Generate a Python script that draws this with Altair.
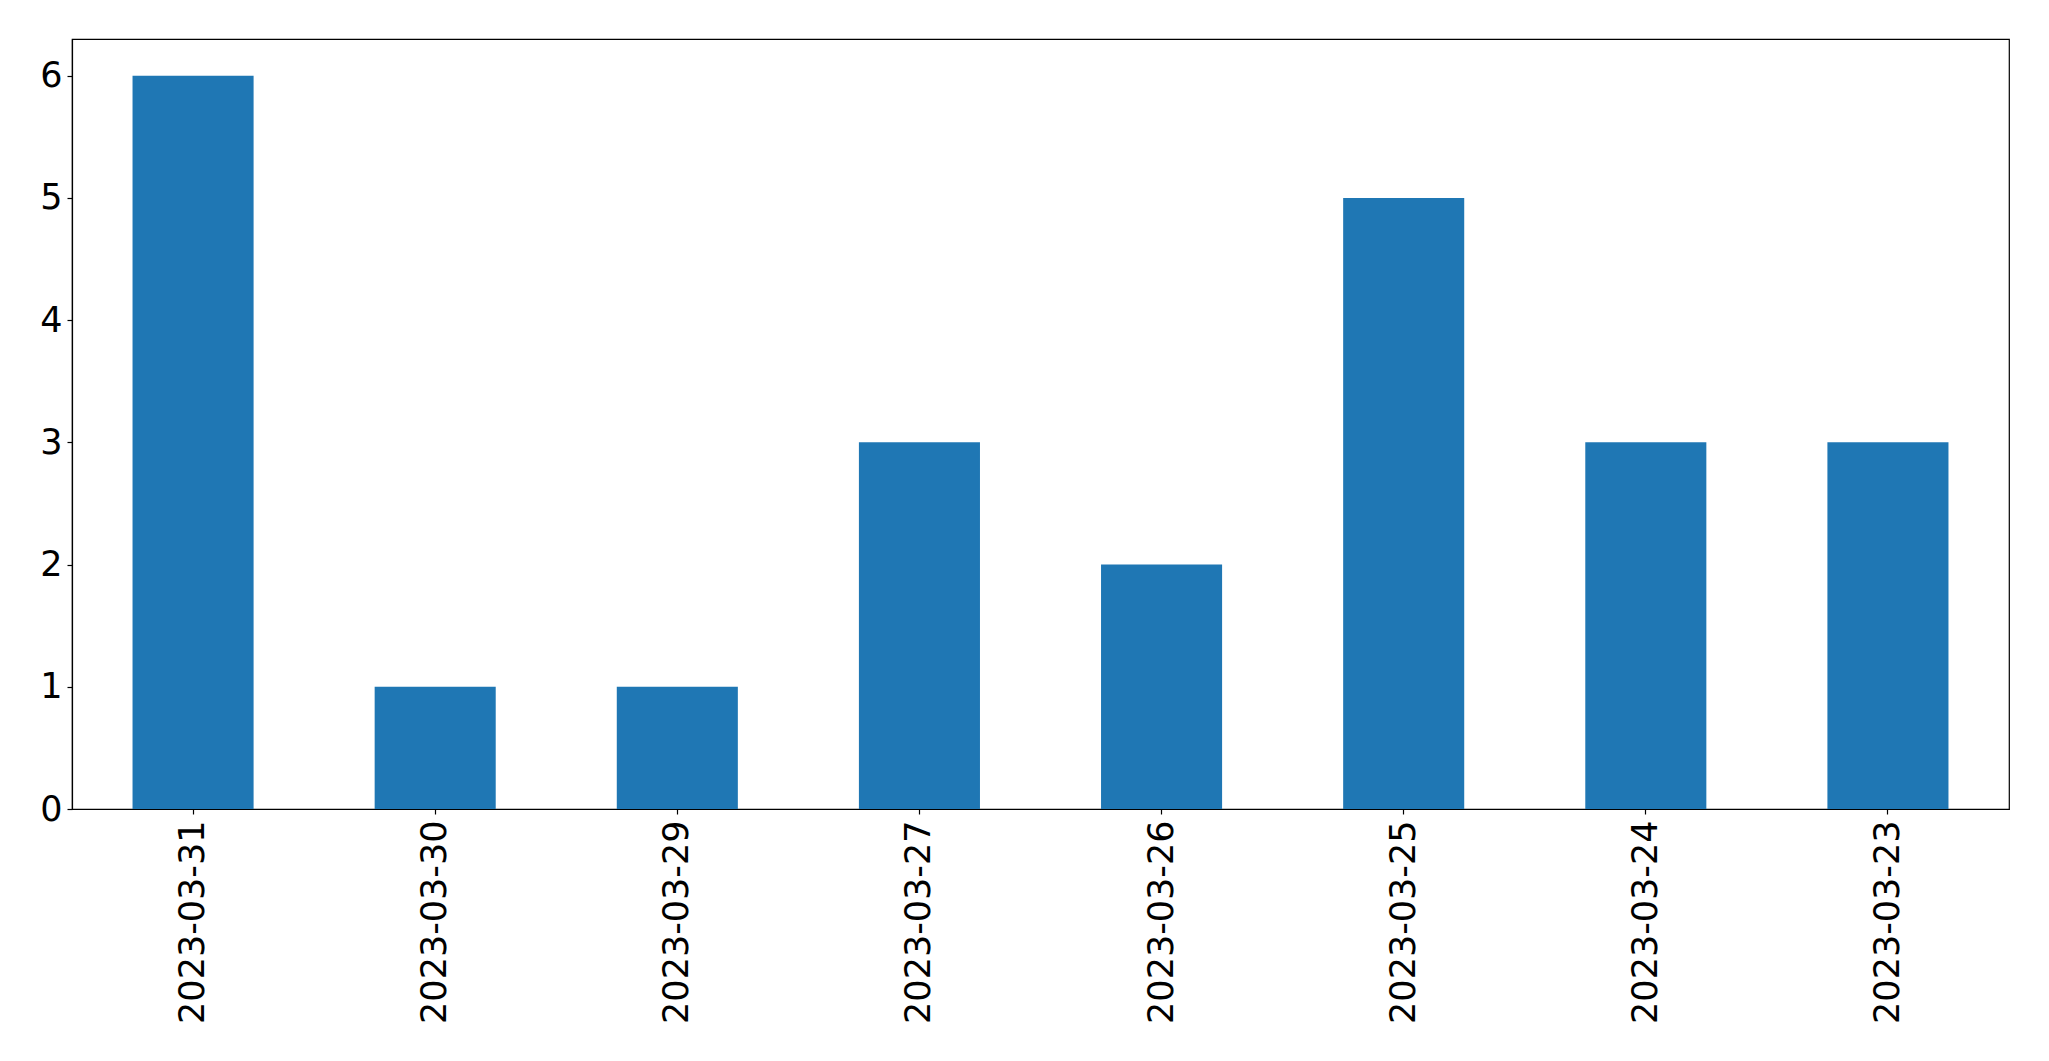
import altair as alt
import pandas as pd

dates = ["2023-03-31", "2023-03-30", "2023-03-29", "2023-03-27",
         "2023-03-26", "2023-03-25", "2023-03-24", "2023-03-23"]
counts = [6, 1, 1, 3, 2, 5, 3, 3]

df = pd.DataFrame({"date": dates, "count": counts})

FS = 35

chart = alt.Chart(df).mark_bar(color="#1f77b4").encode(
    x=alt.X("date:N", sort=None, title=None,
            scale=alt.Scale(paddingInner=0.5, paddingOuter=0.25),
            axis=alt.Axis(labelAngle=-90, labelFontSize=FS, labelFont="DejaVu Sans",
                          labelColor="black", tickColor="black", domainColor="black",
                          tickSize=5, labelPadding=6, domainWidth=1.2, tickWidth=1.2,
                          labelLimit=0)),
    y=alt.Y("count:Q", title=None,
            scale=alt.Scale(domain=[0, 6.3], nice=False),
            axis=alt.Axis(values=[0, 1, 2, 3, 4, 5, 6], grid=False, labelFontSize=FS,
                          labelFont="DejaVu Sans", labelColor="black", tickColor="black",
                          domainColor="black", tickSize=5, labelPadding=5,
                          domainWidth=1.2, tickWidth=1.2)),
).properties(
    width=1937, height=770,
    autosize=alt.AutoSizeParams(type="none"),
    padding={"left": 64, "top": 31, "right": 20, "bottom": 230},
).configure_view(stroke="black", strokeWidth=1.2)

chart.save("out.html", embed_options={"renderer": "svg", "actions": False})
